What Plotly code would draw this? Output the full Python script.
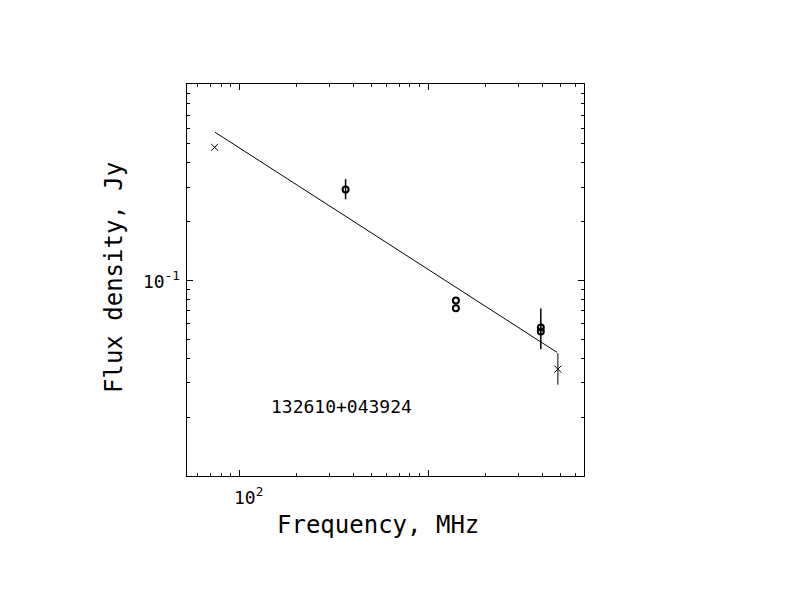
import plotly.graph_objects as go

# measured points (open circles with error bars)
circ_freq = [365, 1400, 1400, 3940, 3940]
circ_flux = [0.292, 0.0790, 0.0722, 0.0575, 0.0548]
circ_err_up = [0.038, 0.0, 0.0, 0.0145, 0.0]
circ_err_dn = [0.032, 0.0, 0.0, 0.0130, 0.0]

# upper points drawn as crosses
cross_freq = [74, 4850]
cross_flux = [0.48, 0.0352]
cross_err_up = [0.0, 0.0073]
cross_err_dn = [0.0, 0.0059]

# fitted power law (end points)
fit_freq = [74.4, 4797]
fit_flux = [0.573, 0.0429]

source_name = "132610+043924"

x_major = [100, 1000]
x_minor = [60, 70, 80, 90, 200, 300, 400, 500, 600, 700, 800, 900,
           2000, 3000, 4000, 5000, 6000]
y_major = [0.01, 0.1, 1]
y_minor = [0.02, 0.03, 0.04, 0.05, 0.06, 0.07, 0.08, 0.09,
           0.2, 0.3, 0.4, 0.5, 0.6, 0.7, 0.8, 0.9]

fig = go.Figure()

# fit line
fig.add_trace(go.Scatter(
    x=fit_freq, y=fit_flux, mode='lines',
    line=dict(color='black', width=1),
    showlegend=False, hoverinfo='skip'
))

# circles
fig.add_trace(go.Scatter(
    x=circ_freq, y=circ_flux, mode='markers',
    marker=dict(symbol='circle-open', size=6, color='black',
                line=dict(width=2, color='black')),
    error_y=dict(type='data', symmetric=False, array=circ_err_up,
                 arrayminus=circ_err_dn, color='black', thickness=1.5, width=0),
    showlegend=False
))

# crosses
fig.add_trace(go.Scatter(
    x=cross_freq, y=cross_flux, mode='markers',
    marker=dict(symbol='x-thin', size=7, color='black',
                line=dict(width=1, color='black')),
    error_y=dict(type='data', symmetric=False, array=cross_err_up,
                 arrayminus=cross_err_dn, color='black', thickness=1, width=0),
    showlegend=False
))

mono = "DejaVu Sans Mono"

# plot box in page pixels: x 186..583, y 83..475 (page adds ~7px offset)
L, T, W, H = 186, 83, 397, 392


def px(xp, yp):
    return (xp - L) / W, (T + H - yp) / H


def label(text, xp, yp, size, angle=0):
    x, y = px(xp, yp)
    return dict(text=text, xref='paper', yref='paper', x=x, y=y,
                xanchor='center', yanchor='middle', textangle=angle,
                showarrow=False, font=dict(family=mono, size=size, color='black'))


fig.update_layout(
    width=792, height=612,
    margin=dict(l=L - 7, r=792 - L - W + 7, t=T - 7, b=612 - T - H + 7),
    paper_bgcolor='white', plot_bgcolor='white',
    xaxis=dict(
        type='log', range=[1.723, 3.824],
        showgrid=False, zeroline=False,
        showline=True, linecolor='black', linewidth=1, mirror='ticks',
        tickmode='array', tickvals=x_major, showticklabels=False,
        ticks='inside', ticklen=6, tickcolor='black', tickwidth=1,
        minor=dict(tickmode='array', tickvals=x_minor, ticks='inside',
                   ticklen=3, tickcolor='black', tickwidth=1, showgrid=False)
    ),
    yaxis=dict(
        type='log', range=[-2.0, 0.005],
        showgrid=False, zeroline=False,
        showline=True, linecolor='black', linewidth=1, mirror='ticks',
        tickmode='array', tickvals=y_major, showticklabels=False,
        ticks='inside', ticklen=6, tickcolor='black', tickwidth=1,
        minor=dict(tickmode='array', tickvals=y_minor, ticks='inside',
                   ticklen=3, tickcolor='black', tickwidth=1, showgrid=False)
    ),
    showlegend=False,
    annotations=[
        label("10<sup>2</sup>", 247, 495, 18),
        label("10<sup>-1</sup>", 160, 279, 18),
        label("Frequency, MHz", 377, 524, 24),
        label("Flux density, Jy", 113, 277, 24, angle=-90),
        label(source_name, 340, 405, 18),
    ]
)

fig.write_html("out.html")
